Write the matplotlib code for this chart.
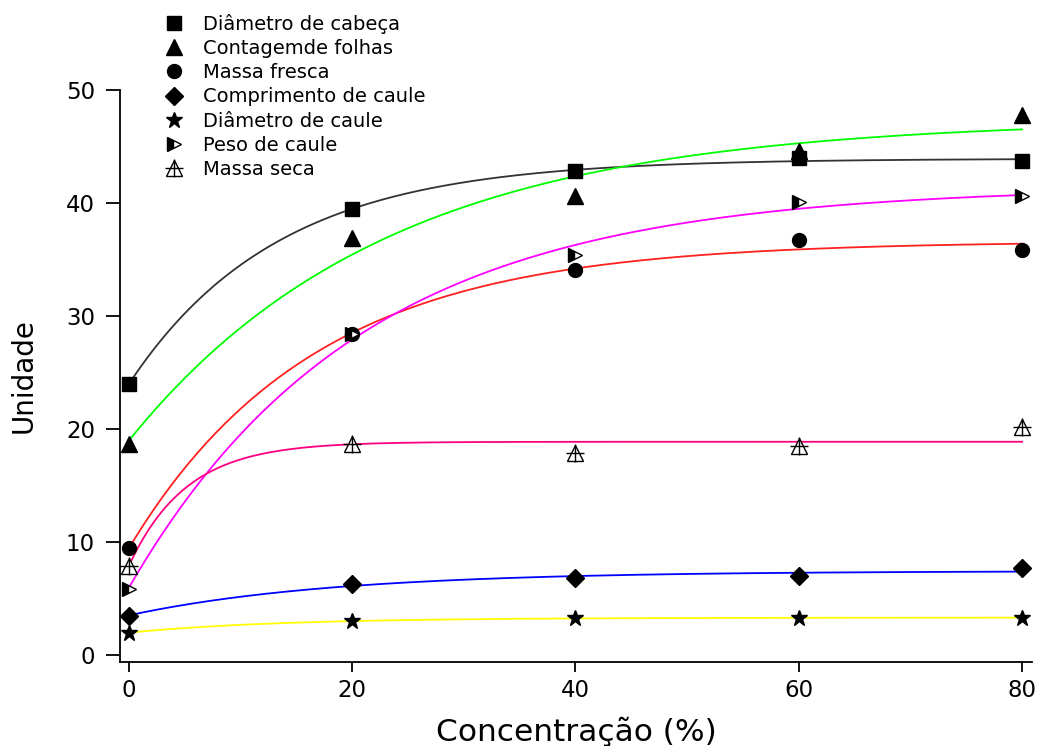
import numpy as np
import matplotlib
matplotlib.use("Agg")
from matplotlib import pyplot as plt

plt.rcParams['font.family'] = ['DejaVu Sans']

conc = [0, 20, 40, 60, 80]

diam_cabeca = [24.0, 39.5, 42.8, 44.0, 43.7]
cont_folhas = [18.7, 36.9, 40.6, 44.6, 47.8]
massa_fresca = [9.5, 28.4, 34.1, 36.7, 35.8]
comp_caule = [3.5, 6.3, 6.8, 7.05, 7.7]
diam_caule = [2.0, 3.0, 3.3, 3.3, 3.3]
peso_caule = [5.9, 28.4, 35.4, 40.1, 40.6]
massa_seca = [7.9, 18.7, 17.9, 18.5, 20.2]

labels = ["Diâmetro de cabeça", "Contagemde folhas", "Massa fresca",
          "Comprimento de caule", "Diâmetro de caule", "Peso de caule",
          "Massa seca"]


def fit_exp(x, y):
    # y = y0 + a*(1 - exp(-b*x)), grid over b and least squares for y0, a
    x = np.asarray(x, float)
    y = np.asarray(y, float)
    best = None
    for b in np.logspace(-3, 0.5, 600):
        X = np.column_stack([np.ones_like(x), 1 - np.exp(-b * x)])
        coef, *_ = np.linalg.lstsq(X, y, rcond=None)
        err = np.sum((X @ coef - y) ** 2)
        if best is None or err < best[0]:
            best = (err, coef, b)
    _, (y0, a), b = best
    return lambda t: y0 + a * (1 - np.exp(-b * t))


fig = plt.figure(figsize=(10.4, 7.46), dpi=100)
ax = fig.add_axes([0.1154, 0.1126, 0.877, 0.7668])

xs = np.linspace(0, 80, 300)
series = [
    (diam_cabeca, "#333333", dict(marker="s", color="k", ms=10)),
    (cont_folhas, "#00ff00", dict(marker="^", color="k", ms=11)),
    (massa_fresca, "#ff2020", dict(marker="o", color="k", ms=10)),
    (comp_caule, "#0000ff", dict(marker="D", color="k", ms=9)),
    (diam_caule, "#ffff00", dict(marker="*", color="k", ms=12)),
    (peso_caule, "#ff00ff", dict(marker=">", color="k", ms=10, fillstyle="left",
                                 markerfacecoloralt="white")),
    (massa_seca, "#ff0080", dict(marker="^", color="k", ms=11,
                                 markerfacecolor="white")),
]

handles = []
for (vals, lc, mk), lab in zip(series, labels):
    f = fit_exp(conc, vals)
    ax.plot(xs, f(xs), color=lc, lw=1.3, zorder=2)
    h, = ax.plot(conc, vals, linestyle="none", mew=1, zorder=3, **mk)
    if lab == "Massa seca":
        h2, = ax.plot(conc, vals, linestyle="none", marker="+", ms=13,
                      color="k", mew=1, zorder=4)
        handles.append((h, h2))
    else:
        handles.append(h)

fig.legend(handles, labels, loc="upper left", bbox_to_anchor=(0.143, 1.0),
           frameon=False, fontsize=14, handletextpad=0.9, labelspacing=0.27,
           handlelength=1.2, borderaxespad=0.3)

ax.set_xlim(-0.8, 80.9)
ax.set_ylim(-0.6, 50)
ax.set_xticks([0, 20, 40, 60, 80])
ax.set_yticks([0, 10, 20, 30, 40, 50])
ax.spines["top"].set_visible(False)
ax.spines["right"].set_visible(False)
ax.spines["left"].set_linewidth(1.3)
ax.spines["bottom"].set_linewidth(1.3)
ax.tick_params(direction="out", length=10, width=1.3, labelsize=16.5, pad=8)
ax.tick_params(axis="x", length=7, pad=5)
ax.set_xlabel("Concentração (%)", fontsize=22.5, labelpad=11)
ax.set_ylabel("Unidade", fontsize=20, labelpad=20)

fig.savefig("out.png", dpi=100)
